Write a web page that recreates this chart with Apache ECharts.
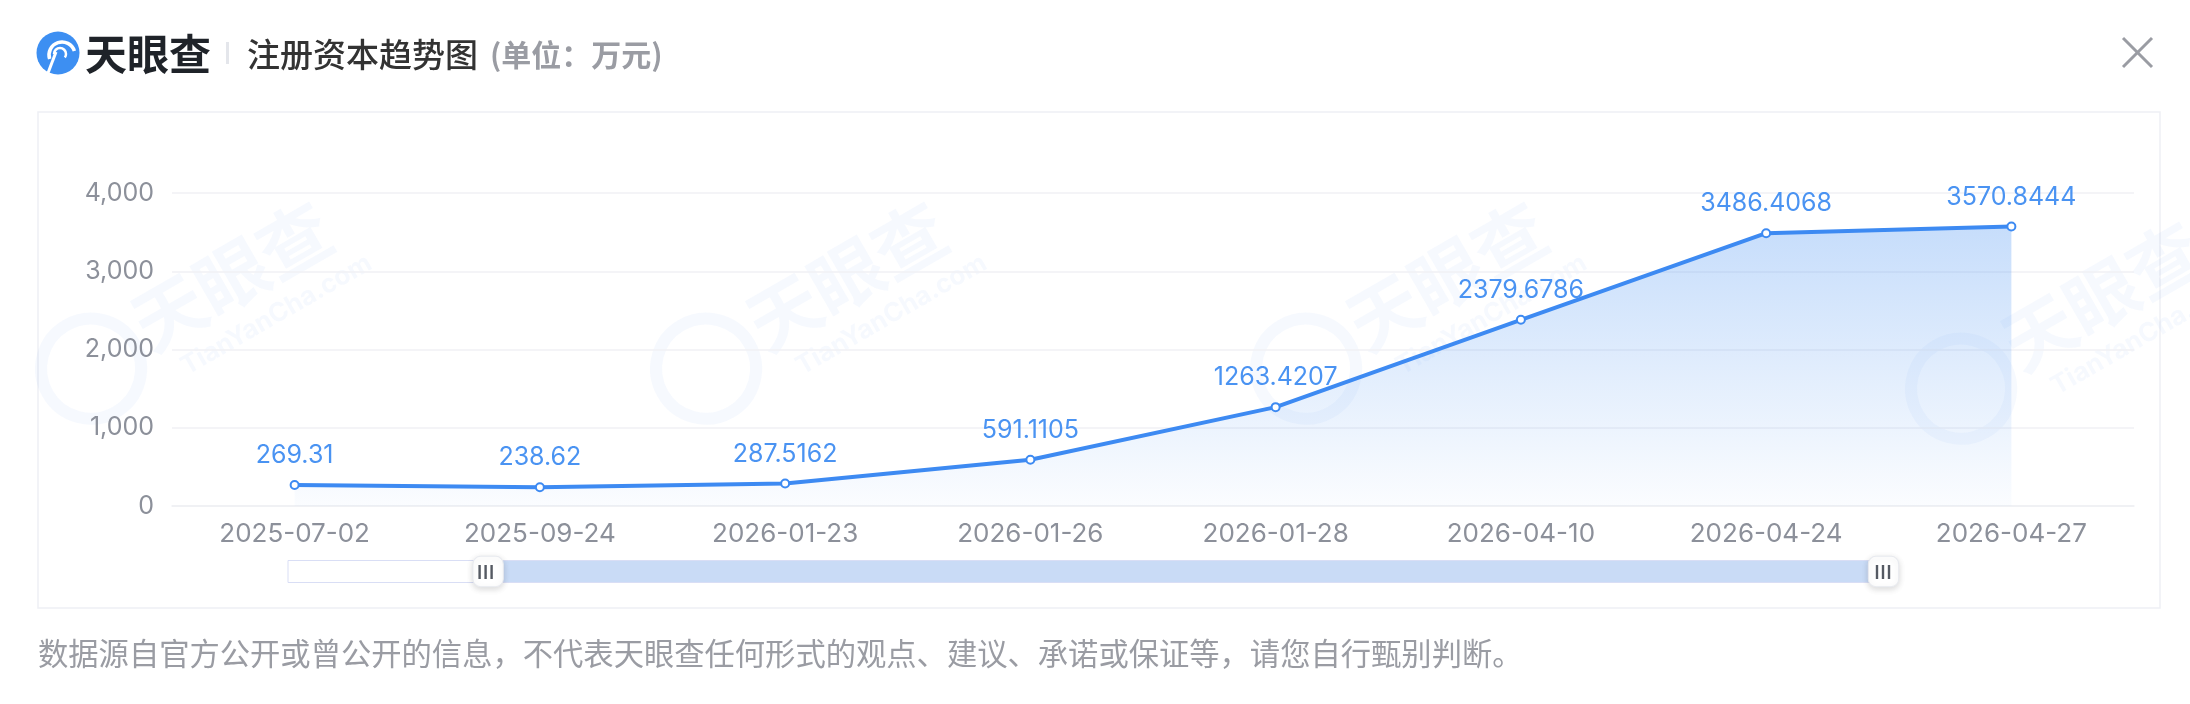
<!DOCTYPE html>
<html>
<head>
<meta charset="utf-8">
<title>注册资本趋势图</title>
<script src="https://cdn.jsdelivr.net/npm/echarts@6/dist/echarts.min.js"></script>
<style>
  html, body {
    margin: 0;
    padding: 0;
    background: #ffffff;
  }
  .chart {
    width: 2190px;
    height: 704px;
  }
</style>
</head>
<body>
<div id="capitalChart" class="chart"></div>
<script>
  // 注册资本（万元）
  const dates = ['2025-07-02', '2025-09-24', '2026-01-23', '2026-01-26', '2026-01-28', '2026-04-10', '2026-04-24', '2026-04-27'];
  const capital = [269.31, 238.62, 287.5162, 591.1105, 1263.4207, 2379.6786, 3486.4068, 3570.8444];
  const yTicks = [0, 1000, 2000, 3000, 4000];

  const numFont = "Inter, 'Liberation Sans', Arial, sans-serif";
  const cjkFont = "'Noto Sans CJK SC', sans-serif";

  // 水印
  function watermark(x, y) {
    const wm = 'rgba(70,140,240,0.05)';
    return {
      type: 'group',
      x: x,
      y: y,
      rotation: Math.PI / 6,
      silent: true,
      z: -1,
      children: [
        {type: 'circle', shape: {cx: -120, cy: 10, r: 50}, style: {fill: 'none', stroke: wm, lineWidth: 12}},
        {type: 'text', x: -60, y: 0, style: {text: '天眼查', font: 'bold 72px ' + cjkFont, fill: wm, verticalAlign: 'middle'}},
        {type: 'text', x: -40, y: 56, style: {text: 'TianYanCha.com', font: 'bold 26px ' + numFont, fill: wm, verticalAlign: 'middle'}}
      ]
    };
  }

  function handleBars(cx) {
    let bars = [];
    for (let i = -1; i <= 1; i++) {
      bars.push({
        type: 'rect',
        shape: {x: cx + i * 6 - 1.2, y: 565, width: 2.4, height: 14},
        style: {fill: '#555a63'},
        z: 100,
        silent: true
      });
    }
    return bars;
  }

  const myChart = echarts.init(document.getElementById('capitalChart'));
  const chartOption = {
    backgroundColor: '#ffffff',
    animation: false,
    title: {
      text: '{a|注册资本趋势图}{b|(单位：万元)}',
      left: 242,
      top: 33,
      textStyle: {
        rich: {
          a: {fontSize: 33, color: '#333333', fontFamily: cjkFont, fontWeight: 500, padding: [0, 12, 0, 0]},
          b: {fontSize: 30, color: '#9a9ca3', fontFamily: cjkFont}
        }
      }
    },
    grid: {
      left: 172,
      right: 56,
      top: 193,
      bottom: 198
    },
    xAxis: [
      {
        type: 'category',
        data: dates,
        boundaryGap: true,
        axisLine: {lineStyle: {color: '#eef0f4', width: 1.5}},
        axisTick: {alignWithLabel: true, length: 10, lineStyle: {color: '#e6e8ee', width: 1.5}},
        axisLabel: {color: '#8c909a', fontSize: 26, fontFamily: numFont, margin: 15}
      },
      {
        type: 'category',
        data: dates,
        show: false
      }
    ],
    yAxis: {
      type: 'value',
      min: yTicks[0],
      max: yTicks[yTicks.length - 1],
      interval: 1000,
      axisLine: {show: false},
      axisTick: {show: false},
      splitLine: {lineStyle: {color: '#f0f1f5', width: 1.5}},
      axisLabel: {color: '#8c909a', fontSize: 25, fontFamily: numFont, margin: 18}
    },
    dataZoom: [
      {
        type: 'slider',
        xAxisIndex: 1,
        filterMode: 'none',
        start: 12.5,
        end: 100,
        left: 286,
        width: 1597,
        top: 560,
        height: 23,
        borderRadius: 0,
        borderColor: '#d9def5',
        backgroundColor: '#ffffff',
        fillerColor: '#c9dbf6',
        showDataShadow: false,
        showDetail: false,
        brushSelect: false,
        moveHandleSize: 0,
        handleIcon: 'roundRect',
        handleSize: '132%',
        handleStyle: {
          color: '#ffffff',
          borderColor: '#e8eaef',
          borderWidth: 1,
          shadowBlur: 6,
          shadowOffsetY: 2,
          shadowColor: 'rgba(0,0,0,0.15)'
        },
        emphasis: {handleStyle: {borderColor: '#e8eaef'}}
      }
    ],
    series: [
      {
        name: '注册资本',
        type: 'line',
        data: capital,
        symbol: 'emptyCircle',
        symbolSize: 8,
        lineStyle: {color: '#3d8af2', width: 4},
        itemStyle: {color: '#3d8af2', borderWidth: 2},
        label: {
          show: true,
          position: 'top',
          distance: 12,
          color: '#4a93f2',
          fontSize: 25,
          fontFamily: numFont
        },
        areaStyle: {
          color: new echarts.graphic.LinearGradient(0, 0, 0, 1, [
            {offset: 0, color: 'rgba(63,140,242,0.42)'},
            {offset: 1, color: 'rgba(63,140,242,0.03)'}
          ])
        }
      }
    ],
    graphic: [
      // 外框
      {type: 'rect', shape: {x: 38, y: 112, width: 2122, height: 496}, style: {fill: 'none', stroke: '#eef0f5', lineWidth: 1.5}, silent: true, z: -2},
      // logo
      {type: 'circle', shape: {cx: 58, cy: 53, r: 21.5}, style: {fill: '#3d8ff2'}, silent: true},
      {type: 'arc', shape: {cx: 62, cy: 55, r: 13, startAngle: Math.PI * 0.9, endAngle: Math.PI * 1.9}, style: {stroke: '#ffffff', lineWidth: 3.5, fill: 'none'}, silent: true},
      {type: 'arc', shape: {cx: 60, cy: 54, r: 6, startAngle: Math.PI * 1.0, endAngle: Math.PI * 2.2}, style: {stroke: '#ffffff', lineWidth: 2.5, fill: 'none'}, silent: true},
      {type: 'line', shape: {x1: 48, y1: 73, x2: 56, y2: 52}, style: {stroke: '#ffffff', lineWidth: 3}, silent: true},
      {type: 'text', x: 85, y: 54, style: {text: '天眼查', font: 'bold 42px ' + cjkFont, fill: '#1f2329', verticalAlign: 'middle'}, silent: true},
      {type: 'rect', shape: {x: 226, y: 42, width: 3, height: 22}, style: {fill: '#e4e6eb'}, silent: true},
      // 关闭按钮
      {type: 'line', shape: {x1: 2123, y1: 38, x2: 2152, y2: 67}, style: {stroke: '#9a9ca3', lineWidth: 3}, silent: true},
      {type: 'line', shape: {x1: 2152, y1: 38, x2: 2123, y2: 67}, style: {stroke: '#9a9ca3', lineWidth: 3}, silent: true},
      // 说明
      {
        type: 'text', x: 38, y: 653, silent: true,
        style: {text: '数据源自官方公开或曾公开的信息，不代表天眼查任何形式的观点、建议、承诺或保证等，请您自行甄别判断。', font: '30.3px ' + cjkFont, fill: '#9a9ca3', verticalAlign: 'middle'}
      },
      watermark(190, 300),
      watermark(805, 300),
      watermark(1405, 300),
      watermark(2060, 320)
    ].concat(handleBars(485.6)).concat(handleBars(1883))
  };

  myChart.setOption(chartOption);
</script>
</body>
</html>
